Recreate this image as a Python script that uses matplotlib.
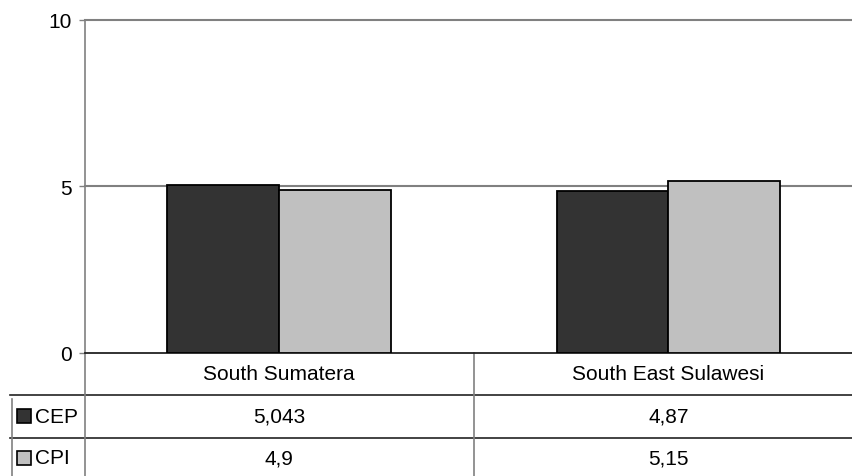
import matplotlib
matplotlib.use("Agg")
import matplotlib.pyplot as plt
import matplotlib.transforms as mtransforms
import numpy as np

categories = ["South Sumatera", "South East Sulawesi"]
series_names = ["CEP", "CPI"]
cep_values = [5.043, 4.87]
cpi_values = [4.9, 5.15]
cep_labels = ["5,043", "4,87"]
cpi_labels = ["4,9", "5,15"]
y_ticks = [0, 5, 10]

plt.rcParams["font.family"] = ["Liberation Sans", "DejaVu Sans"]
FS = 15

fig = plt.figure(figsize=(8.53, 4.77), dpi=100)
ax = fig.add_axes([0.0991, 0.2579, 0.9127, 0.6981])

x = np.arange(len(categories))
w = 0.287
colors = ["#333333", "#c0c0c0"]
ax.bar(x - w / 2, cep_values, width=w, color=colors[0], edgecolor="black", linewidth=1.3, zorder=3)
ax.bar(x + w / 2, cpi_values, width=w, color=colors[1], edgecolor="black", linewidth=1.3, zorder=3)

ax.set_xlim(-0.5, len(categories) - 0.5)
ax.set_ylim(0, 10)
ax.set_yticks(y_ticks)
ax.set_yticklabels([str(t) for t in y_ticks], fontsize=FS)
ax.tick_params(axis="y", direction="out", length=4.3, width=1, color="#808080", pad=5)
ax.set_xticks([])
for yv in y_ticks[1:]:
    ax.axhline(yv, color="#808080", linewidth=1.5, zorder=1, clip_on=False)
for s in ["top", "right"]:
    ax.spines[s].set_visible(False)
ax.spines["left"].set_color("#808080")
ax.spines["left"].set_linewidth(1.2)
ax.spines["bottom"].set_color("#222222")
ax.spines["bottom"].set_linewidth(1.3)

# data table under the plot area
tr = ax.transAxes
blend = mtransforms.blended_transform_factory(ax.transData, ax.transAxes)
row_lines = [-0.126, -0.255]
left_x = -0.0957
for ry in row_lines:
    ax.plot([left_x, 1.0], [ry, ry], transform=tr, color="#222222", linewidth=1.2, clip_on=False)
ax.plot([0, 0], [0, -0.37], transform=tr, color="#808080", linewidth=1.2, clip_on=False)
ax.plot([left_x + 0.002, left_x + 0.002], [-0.138, -0.37], transform=tr, color="#808080", linewidth=1.2, clip_on=False)
for i in range(len(categories) - 1):
    ax.plot([i + 0.5, i + 0.5], [0, -0.37], transform=blend, color="#808080", linewidth=1.2, clip_on=False)

cat_y = -0.063
row_y = [-0.19, -0.315]
for i, c in enumerate(categories):
    ax.text(i, cat_y, c, transform=blend, ha="center", va="center", fontsize=FS)
for r, labels in enumerate([cep_labels, cpi_labels]):
    for i, lab in enumerate(labels):
        ax.text(i, row_y[r], lab, transform=blend, ha="center", va="center", fontsize=FS)
    ax.plot([-0.0777], [row_y[r]], transform=tr, marker="s", markersize=9.5,
            markerfacecolor=colors[r], markeredgecolor="black", markeredgewidth=1.2, clip_on=False)
    ax.text(-0.063, row_y[r], series_names[r], transform=tr, ha="left", va="center", fontsize=FS)

fig.savefig("out.png", dpi=100)
